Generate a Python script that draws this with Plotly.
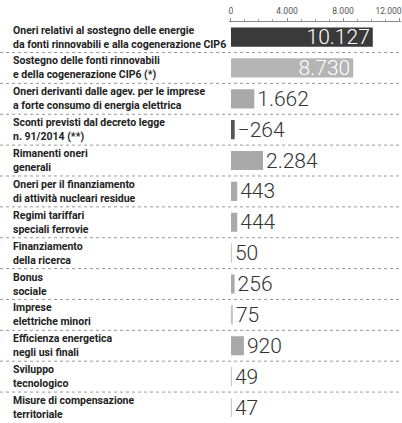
import plotly.graph_objects as go

categories = [
    "Oneri relativi al sostegno delle energie<br>da fonti rinnovabili e alla cogenerazione CIP6",
    "Sostegno delle fonti rinnovabili<br>e della cogenerazione CIP6 (*)",
    "Oneri derivanti dalle agev. per le imprese<br>a forte consumo di energia elettrica",
    "Sconti previsti dal decreto legge<br>n. 91/2014 (**)",
    "Rimanenti oneri<br>generali",
    "Oneri per il finanziamento<br>di attività nucleari residue",
    "Regimi tariffari<br>speciali ferrovie",
    "Finanziamento<br>della ricerca",
    "Bonus<br>sociale",
    "Imprese<br>elettriche minori",
    "Efficienza energetica<br>negli usi finali",
    "Sviluppo<br>tecnologico",
    "Misure di compensazione<br>territoriale",
]
values = [10127, 8730, 1662, -264, 2284, 443, 444, 50, 256, 75, 920, 49, 47]
tick_vals = [0, 4000, 8000, 12000]
tick_labels = ["0", "4.000", "8.000", "12.000"]

W, H = 402, 423


def fmt(v):
    s = f"{abs(v):,}".replace(",", ".")
    return ("−" + s) if v < 0 else s


# keep the last tick label inside the page (as in the reference)
tick_text = tick_labels[:-1] + [tick_labels[-1] + "\u00a0" * 10]

colors = []
for i, v in enumerate(values):
    if i == 0:
        colors.append("#3a3a3a")
    elif i == 1:
        colors.append("#b5b5b5")
    elif v < 0:
        colors.append("#555555")
    elif v < 100:
        colors.append("#c4c4c4")
    else:
        colors.append("#a9a9a9")

positions = ["inside" if i < 2 else "outside" for i in range(len(values))]
text_colors = ["#ffffff" if i < 2 else "#333333" for i in range(len(values))]

fig = go.Figure()
fig.add_trace(go.Bar(
    y=categories,
    x=[abs(v) for v in values],
    orientation="h",
    marker=dict(color=colors, line=dict(width=0)),
    width=0.62,
    text=[fmt(v) for v in values],
    textposition=positions,
    insidetextanchor="end",
    constraintext="none",
    cliponaxis=False,
    textfont=dict(family="Roboto", size=21, color=text_colors, weight=300),
    hoverinfo="skip",
))

shapes = []
for i in range(len(categories) - 1):
    shapes.append(dict(type="line", xref="paper", yref="y",
                       x0=0, x1=1, y0=i + 0.5, y1=i + 0.5,
                       line=dict(color="#9a9a9a", width=1, dash="dot")))

annotations = []
for c in categories:
    annotations.append(dict(xref="paper", yref="y", x=11 / W, y=c,
                            xanchor="left", yanchor="middle", align="left",
                            text=c, showarrow=False,
                            font=dict(family="Roboto", size=10.5, color="#222222", weight=700)))

fig.update_layout(
    width=W, height=H,
    autosize=False,
    margin=dict(l=0, r=0, t=0, b=0, autoexpand=False),
    paper_bgcolor="white", plot_bgcolor="white",
    separators=",.",
    showlegend=False,
    shapes=shapes,
    annotations=annotations,
    xaxis=dict(
        side="top", range=[-150, 12150], domain=[0.5694, 0.9978],
        tickvals=tick_vals, ticktext=tick_text,
        ticklabeloverflow="allow", automargin=False,
        showgrid=False, zeroline=False,
        showline=True, linecolor="#8a8a8a", linewidth=1,
        ticks="outside", ticklen=3, tickcolor="#8a8a8a",
        tickfont=dict(family="Roboto", size=8.5, color="#555555"),
        minor=dict(ticks="outside", ticklen=1.5, dtick=1000, tickcolor="#aaaaaa"),
        fixedrange=True,
    ),
    yaxis=dict(
        type="category", categoryorder="array", categoryarray=categories,
        autorange="reversed", domain=[0, 0.949],
        showticklabels=False, showgrid=False, zeroline=False, showline=False,
        fixedrange=True,
    ),
)

fig.write_html("out.html", config={"displayModeBar": False},
               post_script="document.body.style.margin='0';document.body.style.overflow='hidden';")
